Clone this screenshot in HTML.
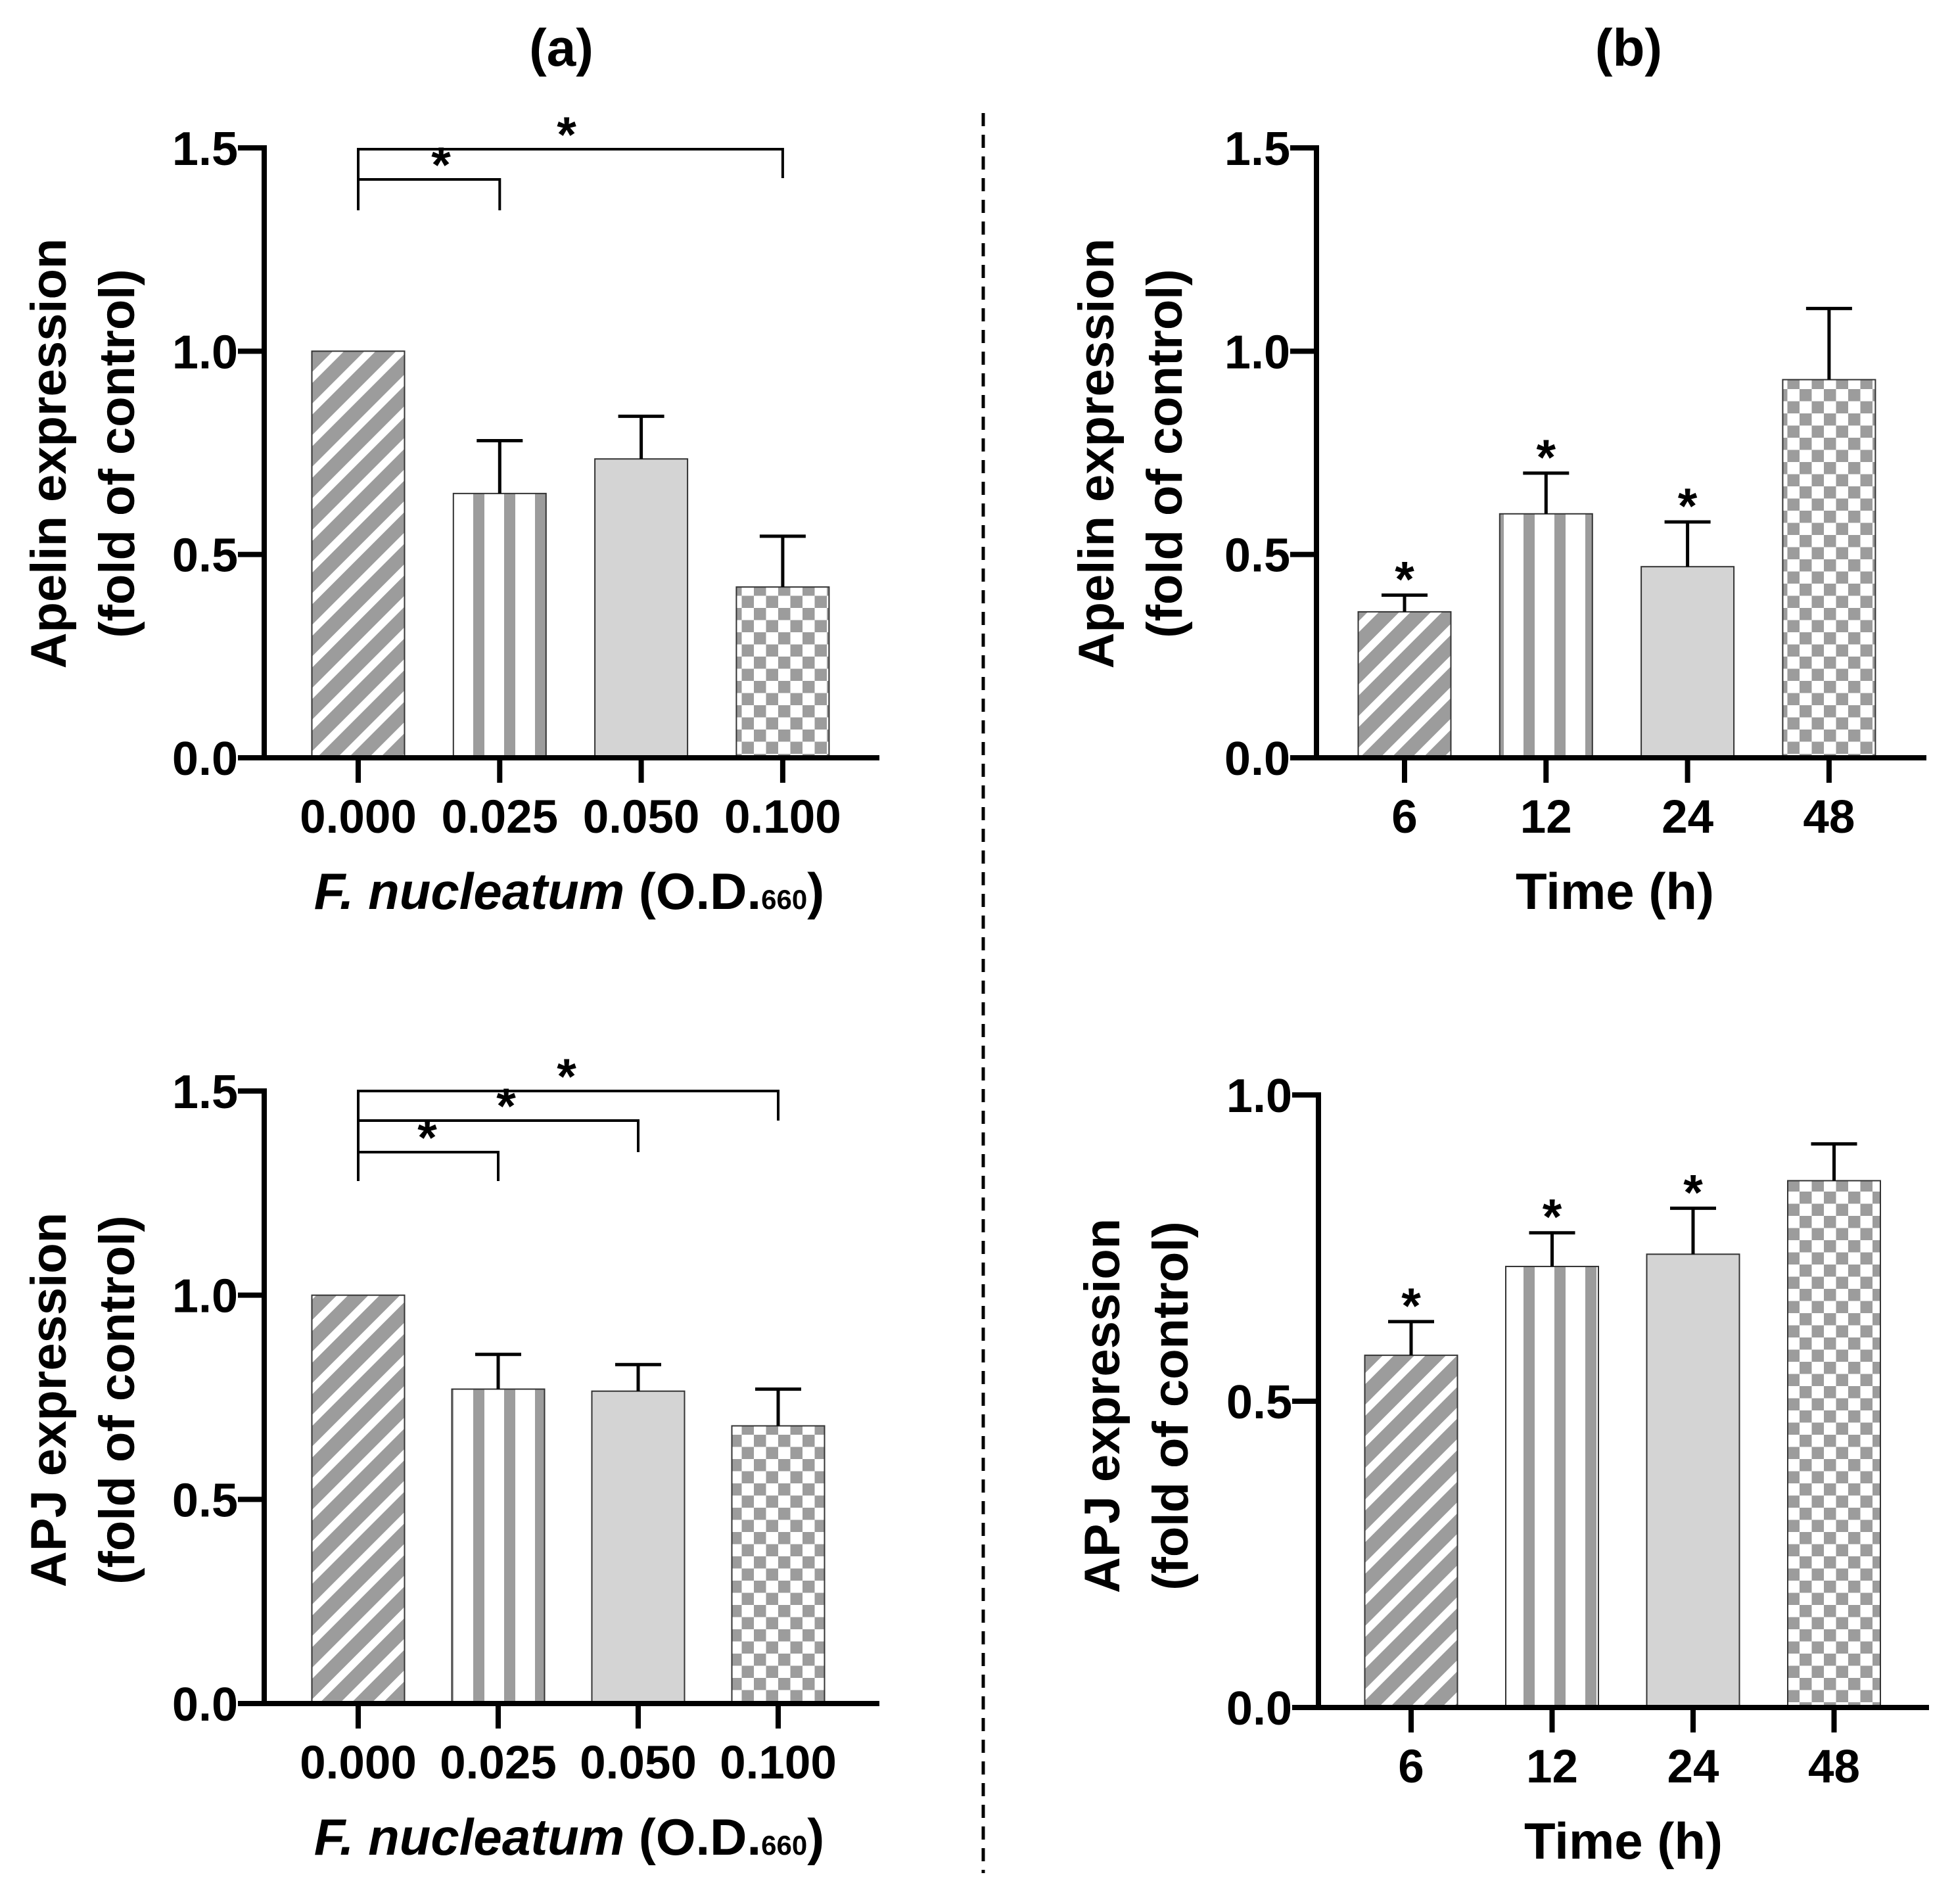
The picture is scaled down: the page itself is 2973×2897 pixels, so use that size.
<!DOCTYPE html>
<html><head><meta charset="utf-8"><style>
html,body{margin:0;padding:0;background:#fff}
svg{display:block}
text{font-family:"Liberation Sans",Arial,sans-serif;font-weight:bold;fill:#000}
</style></head><body>
<svg id="fig" width="2973" height="2897" viewBox="0 0 2973 2897" xmlns="http://www.w3.org/2000/svg">
<defs>
<pattern id="diag" patternUnits="userSpaceOnUse" width="34" height="34" patternTransform="rotate(-45)">
<rect width="34" height="34" fill="#fff"/><rect width="34" height="22" fill="#9c9c9c"/></pattern>
<pattern id="vert" patternUnits="userSpaceOnUse" width="47" height="10" x="0">
<rect width="47" height="10" fill="#fff"/><rect x="15" width="17" height="10" fill="#9c9c9c"/></pattern>
<pattern id="check" patternUnits="userSpaceOnUse" width="37" height="37">
<rect width="37" height="37" fill="#fff"/><rect width="18.5" height="18.5" fill="#9c9c9c"/><rect x="18.5" y="18.5" width="18.5" height="18.5" fill="#9c9c9c"/></pattern>
</defs>
<text x="854" y="100" font-size="80" text-anchor="middle">(a)</text>
<text x="2478" y="100" font-size="80" text-anchor="middle">(b)</text>
<line x1="1496" y1="172" x2="1496" y2="2850" stroke="#000" stroke-width="5" stroke-dasharray="20,13"/>
</svg>
<script>
const doseCats=["0.000","0.025","0.050","0.100"];
const timeCats=["6","12","24","48"];
const apelinDose=[1.0,0.65,0.735,0.42];
const apelinDoseErr=[0,0.78,0.84,0.545];
const apelinTime=[0.359,0.60,0.47,0.93];
const apelinTimeErr=[0.40,0.70,0.58,1.105];
const apjDose=[1.0,0.77,0.765,0.68];
const apjDoseErr=[0,0.855,0.83,0.77];
const apjTime=[0.575,0.72,0.74,0.86];
const apjTimeErr=[0.63,0.775,0.815,0.92];
const ticks15=["0.0","0.5","1.0","1.5"];
const ticks10=["0.0","0.5","1.0"];
const timeStars=[true,true,true,false];
const NS="http://www.w3.org/2000/svg";
const svg=document.getElementById('fig');
const fills=["url(#diag)","url(#vert)","#d4d4d4","url(#check)"];
function mk(tag,attrs,parent){const e=document.createElementNS(NS,tag);for(const k in attrs)e.setAttribute(k,attrs[k]);(parent||svg).appendChild(e);return e;}
function panel(o){
  const g=mk('g',{});
  
  
  const ymax=o.ticks.length-1; const step=0.5;
  const yS=v=>o.y0-(v/(ymax*step))*(o.y0-o.yTop);
  const xS=i=>o.x0+i*o.dx;
  o.vals.forEach((v,i)=>{
    const r=mk('rect',{x:xS(i)-70.5,y:yS(v),width:141,height:o.y0-yS(v),fill:fills[i],stroke:"#333","stroke-width":2},g);
    
    
    if(o.err[i]>v){
      const e=mk('path',{d:`M${xS(i)},${yS(v)}V${yS(o.err[i])}M${xS(i)-35},${yS(o.err[i])}H${xS(i)+35}`,stroke:"#000","stroke-width":5,fill:"none"},g);
      
      
    }
    if(o.stars&&o.stars[i]){
      const s=mk('text',{x:xS(i),y:yS(o.err[i])+2,"font-size":76,"text-anchor":"middle"},g);s.textContent="*";
      
      
    }
  });
  const ax=mk('path',{d:`M${o.ax},${o.yTop-4}V${o.y0}M${o.ax-40},${o.y0}H${o.xEnd}`,stroke:"#000","stroke-width":8,fill:"none"},g);
  
  
  o.ticks.forEach((t,k)=>{
    const y=yS(k*step);
    mk('line',{x1:o.ax-40,y1:y,x2:o.ax,y2:y,stroke:"#000","stroke-width":8},g);
    const tx=mk('text',{x:o.ax-40,y:y+26,"font-size":72,"text-anchor":"end"},g);tx.textContent=t;
    
    
  });
  o.cats.forEach((c,i)=>{
    mk('line',{x1:xS(i),y1:o.y0,x2:xS(i),y2:o.y0+38,stroke:"#000","stroke-width":8},g);
    const tx=mk('text',{x:xS(i),y:o.y0+114,"font-size":71,"text-anchor":"middle"},g);tx.textContent=c;
    
    
  });
  const yl=mk('text',{transform:`translate(${o.ylx},${o.ylc}) rotate(-90)`,"font-size":76,"text-anchor":"middle"},g);
  
  
  const t1=mk('tspan',{x:0,y:0},yl);t1.textContent=o.ylab;
  const t2=mk('tspan',{x:0,y:104},yl);t2.textContent="(fold of control)";
  const xl=mk('text',{x:o.xlx,y:o.y0+230,"font-size":78,"text-anchor":"middle"},g);
  
  
  if(o.dose){
    const a=mk('tspan',{"font-style":"italic"},xl);a.textContent="F. nucleatum";
    const b=mk('tspan',{},xl);b.textContent=" (O.D.";
    const c=mk('tspan',{"font-size":42},xl);c.textContent="660";
    const d=mk('tspan',{},xl);d.textContent=")";
  } else xl.textContent="Time (h)";
  (o.brackets||[]).forEach(b=>{
    const x1=xS(0),x2=xS(b.to);
    const p=mk('path',{d:`M${x1},${b.drop}V${b.y}H${x2}V${b.rdrop}`,stroke:"#000","stroke-width":4,fill:"none"},g);
    
    
    const s=mk('text',{x:b.sx,y:b.y+4,"font-size":76,"text-anchor":"middle"},g);s.textContent="*";
    
    
  });
}
panel({name:'apelin-dose-chart',cats:doseCats,vals:apelinDose,err:apelinDoseErr,ticks:ticks15,ax:402,x0:545,dx:215.3,y0:1153,yTop:225,xEnd:1338,ylx:100,ylc:690,ylab:"Apelin expression",xlx:866,dose:true,
  brackets:[{to:3,y:227,drop:320,rdrop:271,sx:862},{to:1,y:273,drop:320,rdrop:320,sx:671}]});
panel({name:'apelin-time-chart',cats:timeCats,vals:apelinTime,err:apelinTimeErr,ticks:ticks15,stars:timeStars,ax:2003,x0:2137,dx:215.3,y0:1153,yTop:225,xEnd:2931,ylx:1694,ylc:690,ylab:"Apelin expression",xlx:2457,dose:false});
panel({name:'apj-dose-chart',cats:doseCats,vals:apjDose,err:apjDoseErr,ticks:ticks15,ax:402,x0:545,dx:213,y0:2592,yTop:1660,xEnd:1338,ylx:100,ylc:2130,ylab:"APJ expression",xlx:866,dose:true,
  brackets:[{to:3,y:1660,drop:1797,rdrop:1705,sx:862},{to:2,y:1705,drop:1797,rdrop:1753,sx:770},{to:1,y:1753,drop:1797,rdrop:1797,sx:650}]});
panel({name:'apj-time-chart',cats:timeCats,vals:apjTime,err:apjTimeErr,ticks:ticks10,stars:timeStars,ax:2006,x0:2147,dx:214.5,y0:2598,yTop:1666,xEnd:2935,ylx:1703,ylc:2139,ylab:"APJ expression",xlx:2470,dose:false});
</script>
</body></html>
